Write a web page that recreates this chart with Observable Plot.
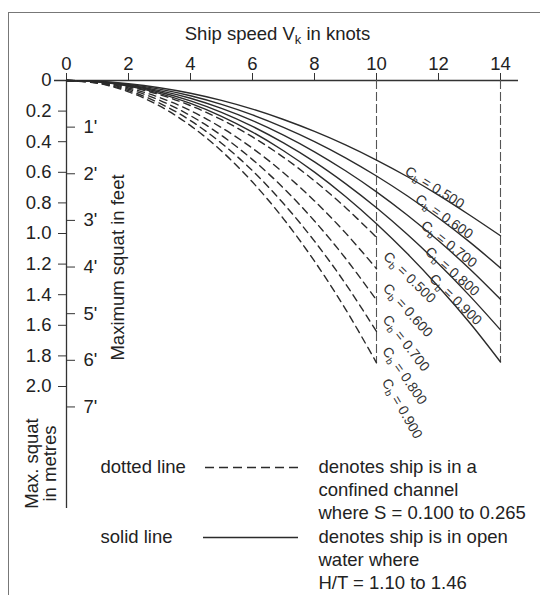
<!DOCTYPE html>
<html><head><meta charset="utf-8">
<script src="https://cdn.jsdelivr.net/npm/d3@7"></script>
<script src="https://cdn.jsdelivr.net/npm/@observablehq/plot@0.6"></script>
<style>
html,body{margin:0;padding:0;background:#fff;}
#wrap{position:relative;width:540px;height:595px;overflow:hidden;}
#border{position:absolute;left:8px;top:12px;width:600px;height:600px;border-top:1.5px solid #777;border-left:1.5px solid #777;pointer-events:none;}
svg{display:block;}
</style></head><body><div id="wrap"><div id="border"></div></div>
<script>
// ---- data (metres of squat) ----
const speedsOpen = [0,1,2,3,4,5,6,7,8,9,10,11,12,13,14];
const speedsConfined = [0,1,2,3,4,5,6,7,8,9,10];
const blockCoefficients = ["0.500","0.600","0.700","0.800","0.900"];

const open050 = [0,0.005,0.021,0.047,0.083,0.130,0.187,0.255,0.333,0.421,0.520,0.629,0.749,0.879,1.015];
const open060 = [0,0.006,0.025,0.056,0.100,0.156,0.225,0.306,0.399,0.505,0.624,0.755,0.899,1.055,1.225];
const open070 = [0,0.007,0.029,0.066,0.116,0.182,0.262,0.357,0.466,0.590,0.728,0.881,1.048,1.230,1.430];
const open080 = [0,0.008,0.033,0.075,0.133,0.208,0.300,0.408,0.532,0.674,0.832,1.007,1.198,1.406,1.630];
const open090 = [0,0.009,0.037,0.084,0.150,0.234,0.337,0.459,0.599,0.758,0.936,1.133,1.348,1.582,1.840];

const confined050 = [0,0.010,0.041,0.092,0.164,0.256,0.369,0.502,0.656,0.830,1.025];
const confined060 = [0,0.012,0.049,0.111,0.197,0.308,0.443,0.603,0.787,0.996,1.230];
const confined070 = [0,0.014,0.057,0.129,0.230,0.359,0.517,0.703,0.918,1.162,1.435];
const confined080 = [0,0.016,0.066,0.148,0.262,0.410,0.590,0.804,1.050,1.328,1.640];
const confined090 = [0,0.018,0.074,0.166,0.295,0.461,0.664,0.904,1.181,1.494,1.845];

const xTicks = [0,2,4,6,8,10,12,14];
const metreTicks = [0,0.2,0.4,0.6,0.8,1.0,1.2,1.4,1.6,1.8,2.0];
const feetTicks = [1,2,3,4,5,6,7];
const FT = 0.3048;

// ---- build tables ----
const openSeries = [open050, open060, open070, open080, open090];
const confinedSeries = [confined050, confined060, confined070, confined080, confined090];
const openRows = openSeries.flatMap((s,i)=>s.map((m,j)=>({cb:blockCoefficients[i], v:speedsOpen[j], s:m})));
const confinedRows = confinedSeries.flatMap((s,i)=>s.map((m,j)=>({cb:blockCoefficients[i], v:speedsConfined[j], s:m})));
const interp = (series, v) => { const j = Math.min(Math.floor(v), series.length-2); const t = v-j; return series[j]*(1-t)+series[j+1]*t; };

const solidLabelAt = [11.8, 12.1, 12.25, 12.35, 12.45];
const solidLabelAngle = [32, 35, 38, 41, 44];
const solidLabels = openSeries.map((s,i)=>({t:`C_b = ${blockCoefficients[i]}`, v:solidLabelAt[i], s:interp(s, solidLabelAt[i]), a:solidLabelAngle[i]}));
const dashedLabelAngle = [44, 48, 52, 55, 60];
const dashedLabels = confinedSeries.map((s,i)=>({t:`C_b = ${blockCoefficients[i]}`, v:speedsConfined[speedsConfined.length-1], s:s[s.length-1], a:dashedLabelAngle[i]}));
const limits = [
  {v: speedsConfined[speedsConfined.length-1], end: confined090[confined090.length-1]},
  {v: speedsOpen[speedsOpen.length-1], end: open090[open090.length-1]}
];

// pixel helpers for annotation placement
const xv = px => (px - 66) / 31;
const yv = py => (py - 80) / 153;
const ink = "#2b2b2b";

const chart = Plot.plot({
  width: 540, height: 595,
  marginLeft: 66, marginRight: 40, marginTop: 80, marginBottom: 209,
  style: {fontFamily: "'Liberation Sans', Arial, Helvetica, sans-serif", fontSize: "18.5px", color: "#222", background: "transparent"},
  x: {domain: [0, 14]},
  y: {domain: [0, 2], reverse: true},
  marks: [
    Plot.axisX({anchor: "top", ticks: xTicks, tickSize: 8, tickPadding: 3, label: null, stroke: "#333"}),
    Plot.axisY({anchor: "left", ticks: metreTicks, tickSize: 8, tickPadding: 7, label: null, tickFormat: d => d === 0 ? "0" : d.toFixed(1), stroke: "#333"}),
    Plot.ruleY([0], {x1: xv(54), x2: xv(518), stroke: "#333", strokeWidth: 1.3}),
    Plot.ruleX([0], {y1: 0, y2: yv(508), stroke: "#333", strokeWidth: 1.3}),
    Plot.ruleY(feetTicks, {y: d => d*FT, x1: 0, x2: xv(75), stroke: "#333"}),
    Plot.text(feetTicks, {y: d => d*FT, x: xv(83), text: d => `${d}'`, textAnchor: "start", fill: "#222"}),
    Plot.ruleX(limits, {x: "v", y1: 0, y2: "end", stroke: "#555", strokeWidth: 1.1, strokeDasharray: "9,3"}),
    Plot.line(openRows, {x: "v", y: "s", z: "cb", stroke: ink, strokeWidth: 1.4, curve: "catmull-rom"}),
    Plot.line(confinedRows, {x: "v", y: "s", z: "cb", stroke: ink, strokeWidth: 1.4, strokeDasharray: "7,5", curve: "catmull-rom"}),
    Plot.text(solidLabels, {x: "v", y: "s", text: "t", rotate: "a", textAnchor: "middle", lineAnchor: "bottom", fontSize: 14, fill: "#333"}),
    Plot.text(dashedLabels, {x: "v", y: "s", text: "t", rotate: "a", textAnchor: "start", lineAnchor: "middle", dx: 9, dy: 17, fontSize: 14, fill: "#333"}),
    // titles
    Plot.text(["Ship speed V_k in knots"], {x: xv(277), y: yv(34), text: d => d, fill: "#222"}),
    Plot.text(["Maximum squat in feet"], {x: xv(118), y: yv(267), text: d => d, rotate: -90, fill: "#222"}),
    Plot.text(["Max. squat\nin metres"], {x: xv(41), y: yv(463), text: d => d, rotate: -90, lineHeight: 0.95, fill: "#222"}),
    // legend
    Plot.ruleY([yv(467)], {x1: xv(205), x2: xv(300), stroke: ink, strokeWidth: 1.3, strokeDasharray: "9,5"}),
    Plot.ruleY([yv(537)], {x1: xv(203), x2: xv(298), stroke: ink, strokeWidth: 1.3}),
    Plot.text([
      {t: "dotted line", x: 100, y: 467},
      {t: "solid line", x: 100, y: 537},
      {t: "denotes ship is in a", x: 318, y: 467},
      {t: "confined channel", x: 318, y: 490},
      {t: "where S = 0.100 to 0.265", x: 318, y: 513},
      {t: "denotes ship is in open", x: 318, y: 537},
      {t: "water where", x: 318, y: 560},
      {t: "H/T = 1.10 to 1.46", x: 318, y: 583}
    ], {x: d => xv(d.x), y: d => yv(d.y), text: "t", textAnchor: "start", fill: "#222"})
  ]
});

// subscripts: "X_y" -> X with subscript y
chart.querySelectorAll("text").forEach(el => {
  if (el.children.length === 0 && el.textContent.includes("_")) {
    const s = el.textContent; const i = s.indexOf("_");
    const before = s.slice(0, i), sub = s.slice(i+1, i+2), after = s.slice(i+2);
    el.textContent = "";
    const ns = "http://www.w3.org/2000/svg";
    const a = document.createElementNS(ns, "tspan"); a.textContent = before; el.appendChild(a);
    const b = document.createElementNS(ns, "tspan"); b.textContent = sub; b.setAttribute("font-size", "70%"); b.setAttribute("dy", "0.3em"); el.appendChild(b);
    const c = document.createElementNS(ns, "tspan"); c.textContent = after; c.setAttribute("dy", "-0.21em"); el.appendChild(c);
  }
});
document.getElementById("wrap").appendChild(chart);
</script></body></html>
